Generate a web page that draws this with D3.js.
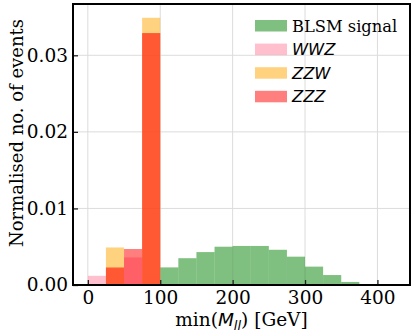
<!DOCTYPE html>
<html>
<head>
<meta charset="utf-8">
<script src="https://cdn.jsdelivr.net/npm/d3@7"></script>
<style>
  body { margin: 0; background: #fff; }
  .tick text { font-family: "DejaVu Serif", serif; }
</style>
</head>
<body>
<svg id="viz" width="415" height="332"></svg>
<script>
// bin edges in GeV, 25 GeV wide
var binEdges = [0, 25, 50, 75, 100, 125, 150, 175, 200, 225, 250, 275, 300, 325, 350, 375];
var signal = [0, 0, 0, 0, 0.0023, 0.0035, 0.0043, 0.0050, 0.0051, 0.0051, 0.0046, 0.0037, 0.0024, 0.0013, 0.0004];
var wwz = [0.0012, 0.0022, 0.0036, 0.0329, 0, 0, 0, 0, 0, 0, 0, 0, 0, 0, 0];
var zzw = [0, 0.0049, 0, 0.0349, 0, 0, 0, 0, 0, 0, 0, 0, 0, 0, 0];
var zzz = [0, 0.0023, 0.0047, 0.0329, 0, 0, 0, 0, 0, 0, 0, 0, 0, 0, 0];
var xTicks = [0, 100, 200, 300, 400];
var yTicks = [0, 0.01, 0.02, 0.03];

var series = [
  {name: "BLSM signal", values: signal, color: "#008000", italic: false},
  {name: "WWZ", values: wwz, color: "#ff7f9a", italic: true},
  {name: "ZZW", values: zzw, color: "#ffa500", italic: true},
  {name: "ZZZ", values: zzz, color: "#ff0000", italic: true}
];

var plot = {left: 73, right: 410, top: 4, bottom: 285};

var svg = d3.select("#viz");

var x = d3.scaleLinear().domain([-20.5, 445]).range([plot.left, plot.right]);
var y = d3.scaleLinear().domain([0, 0.0367]).range([plot.bottom, plot.top]);

// grid
var grid = svg.append("g");
grid.selectAll(".gx").data(xTicks).enter().append("line")
  .attr("x1", d => x(d)).attr("x2", d => x(d))
  .attr("y1", plot.top).attr("y2", plot.bottom)
  .attr("stroke", "#dcdcdc").attr("stroke-width", 1);
grid.selectAll(".gy").data(yTicks).enter().append("line")
  .attr("x1", plot.left).attr("x2", plot.right)
  .attr("y1", d => y(d)).attr("y2", d => y(d))
  .attr("stroke", "#dcdcdc").attr("stroke-width", 1);

// histograms, drawn in order with alpha like the original
series.forEach(function(s){
  svg.append("g").selectAll("rect")
    .data(s.values.map((v, i) => ({x0: binEdges[i], x1: binEdges[i + 1], v: v})).filter(d => d.v > 0))
    .enter().append("rect")
    .attr("x", d => x(d.x0))
    .attr("width", d => x(d.x1) - x(d.x0))
    .attr("y", d => y(d.v))
    .attr("height", d => y(0) - y(d.v))
    .attr("fill", s.color)
    .attr("fill-opacity", 0.5);
});

// axes with inward ticks
var xAxis = svg.append("g")
  .attr("transform", "translate(0," + plot.bottom + ")")
  .call(d3.axisBottom(x).tickValues(xTicks).tickSize(-5).tickPadding(6));
var yAxis = svg.append("g")
  .attr("transform", "translate(" + plot.left + ",0)")
  .call(d3.axisLeft(y).tickValues(yTicks).tickFormat(d3.format(".2f")).tickSize(-5).tickPadding(5));
[xAxis, yAxis].forEach(function(a){
  a.select(".domain").remove();
  a.selectAll(".tick line").attr("stroke", "#222").attr("stroke-width", 1.3);
  a.selectAll(".tick text").attr("font-size", 18.5).attr("fill", "#000");
});

// frame
svg.append("rect")
  .attr("x", plot.left).attr("y", plot.top)
  .attr("width", plot.right - plot.left).attr("height", plot.bottom - plot.top)
  .attr("fill", "none").attr("stroke", "#000").attr("stroke-width", 2);

// axis labels
var xl = svg.append("text")
  .attr("x", (plot.left + plot.right) / 2).attr("y", 326)
  .attr("text-anchor", "middle")
  .attr("font-family", "DejaVu Serif").attr("font-size", 18.5);
xl.append("tspan").text("min(");
xl.append("tspan").attr("font-family", "DejaVu Sans").attr("font-style", "italic").text("M");
xl.append("tspan").attr("font-family", "DejaVu Sans").attr("font-style", "italic")
  .attr("font-size", 13).attr("dy", 4).text("ll");
xl.append("tspan").attr("dy", -4).text(") [GeV]");

svg.append("text")
  .attr("transform", "translate(23,133) rotate(-90)")
  .attr("text-anchor", "middle")
  .attr("font-family", "DejaVu Serif").attr("font-size", 18)
  .text("Normalised no. of events");

// legend
var legend = svg.append("g").attr("transform", "translate(255,20)");
var rows = legend.selectAll("g").data(series).enter().append("g")
  .attr("transform", (d, i) => "translate(0," + (i * 23.6) + ")");
rows.append("rect")
  .attr("width", 32).attr("height", 11.5)
  .attr("fill", d => d.color).attr("fill-opacity", 0.5);
rows.append("text")
  .attr("x", 37).attr("y", 11.5)
  .attr("font-family", d => d.italic ? "DejaVu Sans" : "DejaVu Serif")
  .attr("font-style", d => d.italic ? "italic" : "normal")
  .attr("font-size", 16.3)
  .text(d => d.name);
</script>
</body>
</html>
